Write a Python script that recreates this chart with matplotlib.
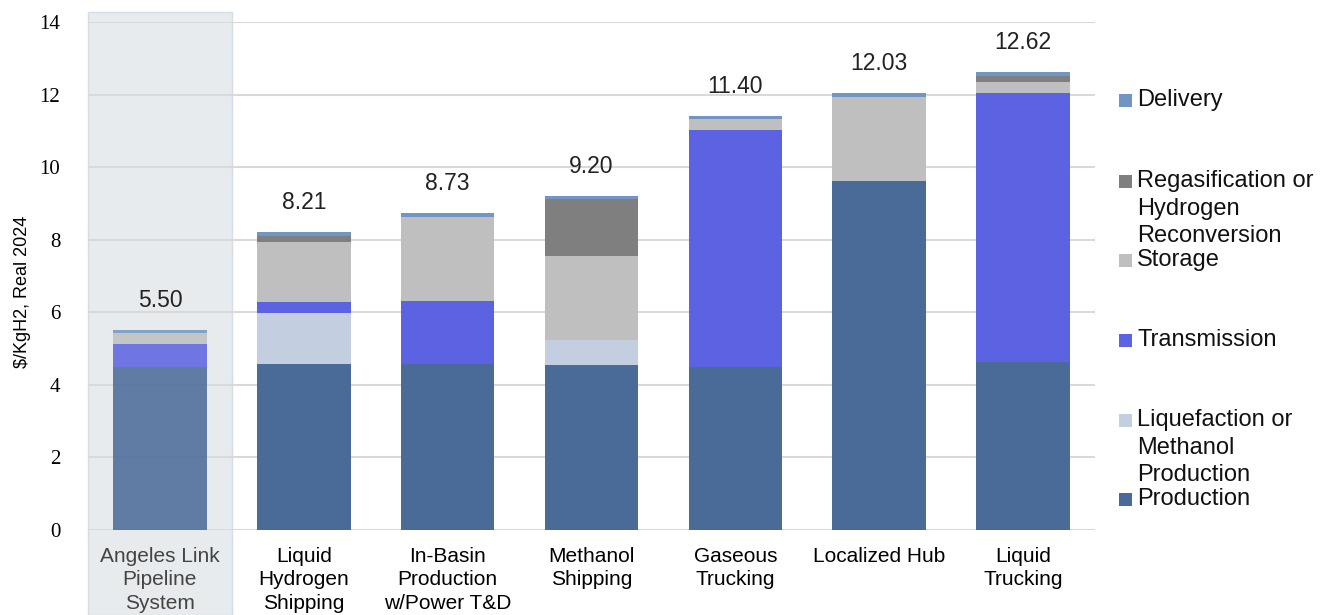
import matplotlib
matplotlib.use("Agg")
import matplotlib.pyplot as plt
import matplotlib.transforms as mtransforms
from matplotlib.patches import Rectangle
import numpy as np

# pathway categories (x axis)
pathways = [
    "Angeles Link\nPipeline\nSystem",
    "Liquid\nHydrogen\nShipping",
    "In-Basin\nProduction\nw/Power T&D",
    "Methanol\nShipping",
    "Gaseous\nTrucking",
    "Localized Hub",
    "Liquid\nTrucking",
]

# cost components, $/kgH2 (real 2024), stacked bottom to top
production = [4.49, 4.57, 4.57, 4.55, 4.49, 9.62, 4.63]
liquefaction = [0.00, 1.41, 0.00, 0.68, 0.00, 0.00, 0.00]
transmission = [0.64, 0.29, 1.74, 0.02, 6.53, 0.00, 7.42]
storage = [0.29, 1.67, 2.32, 2.30, 0.30, 2.32, 0.30]
regasification = [0.00, 0.17, 0.00, 1.56, 0.00, 0.00, 0.16]
delivery = [0.08, 0.10, 0.10, 0.09, 0.08, 0.09, 0.11]

series = [
    ("Production", production, "#4a6a98"),
    ("Liquefaction or\nMethanol\nProduction", liquefaction, "#c3cee0"),
    ("Transmission", transmission, "#5b63e3"),
    ("Storage", storage, "#bfbfbf"),
    ("Regasification or\nHydrogen\nReconversion", regasification, "#7f7f7f"),
    ("Delivery", delivery, "#7196c4"),
]

W, H = 1327, 615
fig = plt.figure(figsize=(W / 100, H / 100), dpi=100)
ax = fig.add_axes([88 / W, (H - 530) / H, (1095 - 88) / W, (530 - 22) / H])

x = np.arange(len(pathways))
bottom = np.zeros(len(pathways))
for name, vals, color in series:
    vals = np.asarray(vals)
    # the pipeline bar sits on the shaded panel and reads a little washed out
    alphas = [0.86] + [1.0] * (len(x) - 1)
    for i in range(len(x)):
        if vals[i] > 0:
            ax.bar(x[i], vals[i], 0.65, bottom=bottom[i], color=color,
                   alpha=alphas[i], linewidth=0, zorder=2)
    bottom += vals

totals = bottom
for xi, t in zip(x, totals):
    ax.text(xi, t + 0.64, f"{t:.2f}", ha="center", va="baseline",
            fontsize=16.5, family="Liberation Sans", color="#222222", zorder=3)

# shaded panel behind the existing pipeline option
trans = mtransforms.blended_transform_factory(ax.transData, fig.transFigure)
ax.add_patch(Rectangle((-0.5, 0), 1.0, (H - 12) / H, transform=trans,
                       facecolor="#e7ebed", edgecolor="#d3dde6", linewidth=1.0,
                       clip_on=False, zorder=0.2))

ax.set_xlim(-0.5, len(x) - 0.5)
ax.set_ylim(0, 14)
ax.set_yticks(np.arange(0, 15, 2))
ax.set_axisbelow(True)
ax.yaxis.grid(True, color="#d9d9d9", linewidth=1.5)
for s in ax.spines.values():
    s.set_visible(False)
ax.patch.set_alpha(0)

ax.set_xticks(x)
ax.set_xticklabels(pathways, fontsize=15, linespacing=1.32,
                   family="Liberation Sans")
ax.get_xticklabels()[0].set_color("#444444")
ax.tick_params(axis="x", length=0, pad=12)
ax.tick_params(axis="y", length=0, pad=20, labelsize=15)
for lbl in ax.get_yticklabels():
    lbl.set_family("Liberation Serif")

fig.text(23 / W, (H - 292) / H, "$/KgH2, Real 2024", rotation=90,
         ha="center", va="center", fontsize=13, family="Liberation Sans")

# legend drawn by hand, top to bottom in reverse stacking order
leg_y = [100, 181, 260, 340, 420, 499]
for (name, _, color), yc in zip(series[::-1], leg_y):
    fig.patches.append(Rectangle((1119 / W, (H - yc - 6.5) / H), 13 / W, 13 / H,
                                 transform=fig.transFigure, facecolor=color,
                                 linewidth=0))
    for k, line in enumerate(name.split("\n")):
        fig.text(1137 / W, (H - yc - 27.5 * k) / H, line, ha="left",
                 va="center", fontsize=17, family="Liberation Sans",
                 color="#111111")

fig.savefig("out.png", dpi=100)
